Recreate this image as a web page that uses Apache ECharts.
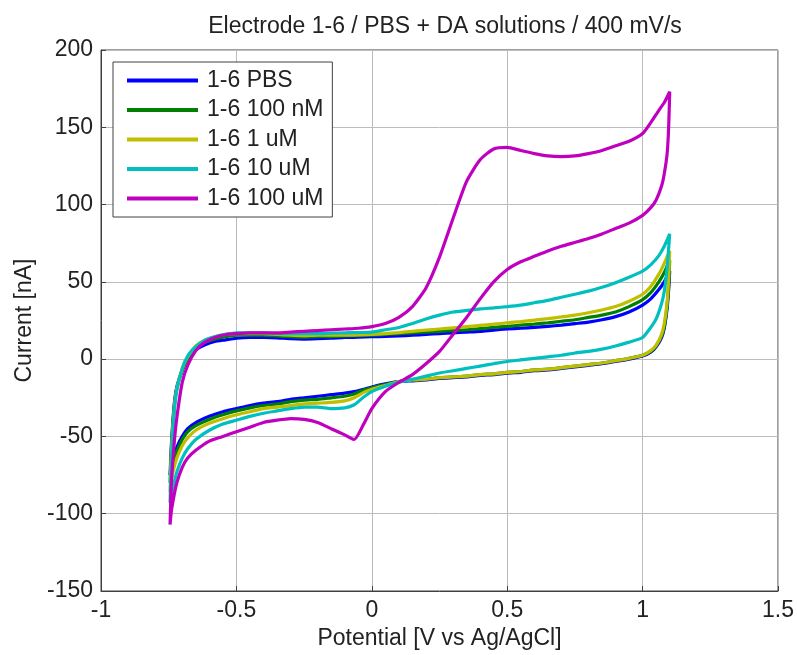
<!DOCTYPE html>
<html>
<head>
<meta charset="utf-8">
<script src="https://cdn.jsdelivr.net/npm/echarts@6/dist/echarts.min.js"></script>
<style>
html,body{margin:0;padding:0;background:#fff;}
#chart{width:797px;height:655px;}
</style>
</head>
<body>
<div id="chart"></div>
<script>
// Potential grids (V vs Ag/AgCl): forward sweep then reverse sweep
const upPotential = [-0.745, -0.74, -0.73, -0.72, -0.70, -0.68, -0.65, -0.62, -0.58, -0.54, -0.5, -0.45, -0.4, -0.35, -0.3, -0.25, -0.2, -0.15, -0.1, -0.05, 0, 0.05, 0.1, 0.15, 0.2, 0.25, 0.3, 0.35, 0.4, 0.45, 0.5, 0.55, 0.6, 0.65, 0.7, 0.75, 0.8, 0.85, 0.9, 0.95, 1.0, 1.03, 1.06, 1.08, 1.1];
const downPotential = [1.1, 1.098, 1.095, 1.09, 1.08, 1.07, 1.05, 1.03, 1.0, 0.95, 0.9, 0.85, 0.8, 0.75, 0.7, 0.65, 0.6, 0.55, 0.5, 0.45, 0.4, 0.35, 0.3, 0.25, 0.2, 0.15, 0.1, 0.05, 0, -0.03, -0.065, -0.1, -0.15, -0.2, -0.25, -0.3, -0.35, -0.4, -0.45, -0.5, -0.55, -0.6, -0.65, -0.68, -0.7, -0.72, -0.73, -0.74, -0.745];

// Currents (nA)
const pbsUp = [-75, -55, -30, -18, -7, 0, 6, 9, 11.5, 12.5, 13.5, 14, 14, 13.8, 13.2, 13, 13.2, 13.5, 14, 14.2, 14.5, 14.7, 15, 15.5, 16, 16.5, 17, 17.5, 18, 18.8, 19.5, 20, 20.5, 21.2, 22, 23, 24, 25.5, 27.5, 30.5, 35, 39, 45, 50, 57];
const pbsDown = [57, 50, 42, 32, 20, 14, 8, 4.5, 2, 0, -1.5, -3, -4, -5, -6, -7, -7.5, -8.5, -9, -10, -10.5, -11.5, -12, -12.5, -13.5, -14, -14.5, -16, -18, -19.5, -21, -22, -23, -24, -25, -26, -27.5, -28.5, -30, -32, -34, -37, -41, -45, -50, -57, -63, -70, -75];

const nM100Up = [-80, -58, -32, -19, -7, 0.5, 7, 10.5, 13, 14.5, 15.5, 15.5, 15.5, 15, 14.5, 14.2, 14.5, 14.5, 15, 15.2, 15.5, 16, 16.5, 17, 17.5, 18, 18.5, 19, 19.8, 20.5, 21.2, 22, 22.7, 23.5, 24.5, 25.5, 27, 28.5, 30.5, 34, 38.5, 43, 50, 56, 64];
const nM100Down = [64, 55, 45, 34, 21, 15, 8.5, 5, 2.5, 0.5, -1, -2.5, -3.5, -4.5, -5.5, -6.5, -7, -8, -8.5, -9.5, -10, -11, -11.5, -12, -13, -13.5, -14.5, -16.5, -18.5, -20, -22.5, -24, -25, -26, -26.5, -27.5, -29, -30, -31.5, -33.5, -36, -39, -43, -47, -52, -60, -67, -74, -80];

const uM1Up = [-86, -60, -33, -19, -6, 1.5, 8.5, 12, 14.5, 16, 16.5, 16.5, 16.5, 16, 15.5, 15.2, 15.5, 15.5, 15.5, 15.7, 16, 16.5, 17.2, 18, 18.8, 19.5, 20.2, 21, 21.8, 22.6, 23.5, 24.3, 25.2, 26.2, 27.3, 28.5, 30, 31.8, 34, 37.5, 42, 47, 55, 62, 70];
const uM1Down = [70, 60, 48, 36, 23, 16, 9, 5.5, 2.5, 0.5, -1, -2.5, -3.5, -4.5, -5.5, -6.5, -7, -8, -8.5, -9.5, -10, -11, -11.5, -12, -13, -13.5, -14.5, -17, -19.5, -21.5, -25, -27, -28, -28.5, -29, -30, -31, -32, -34, -36, -38.5, -41.5, -46, -51, -56, -64, -70, -78, -86];

const uM10Up = [-93, -65, -35, -20, -6, 2, 8, 12, 14.5, 16, 17, 17, 17, 16.5, 16.5, 16.5, 16.5, 16.8, 17, 17.2, 17.5, 19, 20.5, 23, 26, 28.5, 30.5, 31.5, 32.5, 33.2, 34, 35, 36.5, 38, 40, 42, 44, 46.5, 49.5, 53, 57, 61, 67, 73, 81];
const uM10Down = [81, 76, 69, 58, 44, 36, 26, 20.5, 14, 11, 8.5, 6.5, 5, 4, 2.5, 1.5, 0.5, -0.5, -1.5, -3, -4.5, -6, -7.5, -9, -11, -13, -15, -17.5, -21, -24.5, -29.5, -31.5, -32, -31, -31, -32, -33.5, -35, -37, -39.5, -42, -46, -52, -58, -64, -73, -80, -88, -93];

const uM100Up = [-107, -80, -55, -38, -15, -4, 5.5, 10.5, 14, 15.8, 16.5, 17, 17, 17, 17.5, 18, 18.5, 19, 19.5, 20, 21, 23, 27, 34, 46, 66, 91, 115, 129, 136, 137, 135, 133, 131.5, 131, 131.5, 133, 135, 138, 141, 146, 153, 161, 166, 173];
const uM100Down = [173, 160, 145, 132, 120, 112, 103, 98, 93, 88, 84.5, 81, 78, 75.5, 73, 70, 66.5, 63, 58, 50, 39, 27, 16, 5, -3, -10, -15, -21, -32, -42, -52, -49, -45, -41, -39, -38.5, -39.5, -41, -44, -47, -50, -53, -59, -64, -70, -80, -88, -98, -107];

const seriesNames = ['1-6 PBS', '1-6 100 nM', '1-6 1 uM', '1-6 10 uM', '1-6 100 uM'];
const seriesColors = ['#0000ff', '#008000', '#bfbf00', '#00bfbf', '#bf00bf'];
const upData = [pbsUp, nM100Up, uM1Up, uM10Up, uM100Up];
const downData = [pbsDown, nM100Down, uM1Down, uM10Down, uM100Down];

const titleText = 'Electrode 1-6 / PBS + DA solutions / 400 mV/s';
const xName = 'Potential [V vs Ag/AgCl]';
const yName = 'Current [nA]';

const FONT = 'Liberation Sans, Arial, Helvetica, sans-serif';
const TXT = '#222222';
const FS = 23;

function loop(i) {
  const a = upPotential.map((x, k) => [x, upData[i][k]]);
  const b = downPotential.map((x, k) => [x, downData[i][k]]);
  return a.concat(b);
}

const series = seriesNames.map((name, i) => ({
  name: name,
  type: 'line',
  data: loop(i),
  showSymbol: false,
  symbol: 'none',
  smooth: 0.2,
  lineStyle: { color: seriesColors[i], width: 3.2 },
  itemStyle: { color: seriesColors[i] },
  z: 2 + i
}));

const axisCommon = {
  type: 'value',
  axisLine: { show: true, onZero: false, lineStyle: { color: '#404040', width: 1 } },
  axisTick: { show: true, inside: true, length: 5, lineStyle: { color: '#404040' } },
  splitLine: { show: true, lineStyle: { color: '#bcbcbc', width: 1 } },
  axisLabel: { fontSize: FS, color: TXT, fontFamily: FONT },
  nameTextStyle: { fontSize: FS, color: TXT, fontFamily: FONT }
};

const chart = echarts.init(document.getElementById('chart'), null, { renderer: 'canvas' });
chart.setOption({
  animation: false,
  backgroundColor: '#ffffff',
  title: {
    text: titleText,
    left: 440,
    textAlign: 'center',
    top: 10,
    textStyle: { fontSize: FS, fontWeight: 'normal', color: TXT, fontFamily: FONT }
  },
  grid: { left: 101, right: 17, top: 50, bottom: 62, show: true, borderColor: '#404040', borderWidth: 1, backgroundColor: 'transparent' },
  legend: {
    data: seriesNames,
    orient: 'vertical',
    left: 113,
    top: 62,
    icon: 'rect',
    itemWidth: 71,
    itemHeight: 4,
    itemGap: 6.5,
    padding: [7, 9, 7, 14],
    backgroundColor: '#ffffff',
    borderColor: '#404040',
    borderWidth: 1,
    textStyle: { fontSize: FS, lineHeight: 23, color: TXT, fontFamily: FONT, padding: [0, 0, 0, 4] }
  },
  xAxis: Object.assign({}, axisCommon, {
    min: -1, max: 1.5, interval: 0.5,
    name: xName, nameLocation: 'middle', nameGap: 36,
    axisLabel: Object.assign({}, axisCommon.axisLabel, { margin: 8 })
  }),
  yAxis: Object.assign({}, axisCommon, {
    min: -150, max: 200, interval: 50,
    name: yName, nameLocation: 'middle', nameGap: 65,
    axisLabel: Object.assign({}, axisCommon.axisLabel, { margin: 8 })
  }),
  series: series
});
</script>
</body>
</html>
